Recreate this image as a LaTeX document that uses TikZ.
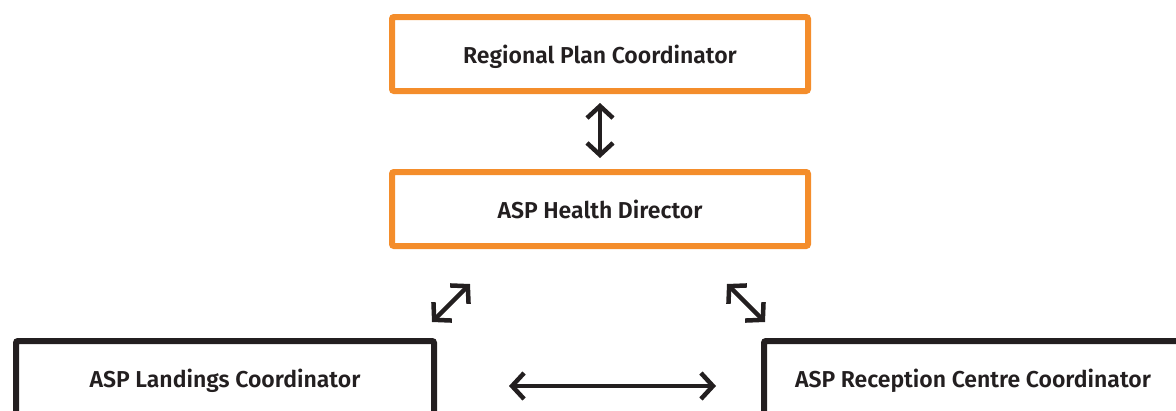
\documentclass[tikz,border=0pt]{standalone}
\usepackage{fontspec}
\setmainfont{Fira Sans}[BoldFont={Fira Sans SemiBold}]
\usepackage{xcolor}
\usetikzlibrary{arrows.meta}
\definecolor{planorange}{RGB}{244,141,43}
\definecolor{inkblack}{RGB}{35,31,32}

\begin{document}
\begin{tikzpicture}[x=1pt,y=-1pt,
    role/.style={draw, line width=6pt, rounded corners=2pt, text=inkblack, text depth=0pt,
                 font=\fontsize{23}{27}\selectfont\bfseries},
    lead/.style={role, draw=planorange, minimum width=416pt, minimum height=74pt},
    unit/.style={role, draw=inkblack, minimum width=418pt, minimum height=74pt},
    link/.style={inkblack, line width=4.5pt, {Straight Barb[length=12pt,width=26pt]}-{Straight Barb[length=12pt,width=26pt]}}]
    \useasboundingbox (0,0) rectangle (1176,410);
    \clip (0,0) rectangle (1176,410);

    \node[lead](RPC) at (600,  54) {Regional Plan Coordinator};
    \node[lead](AHD) at (600, 209) {ASP Health Director};
    \node[unit](ALC) at (225, 378) {ASP Landings Coordinator};
    \node[unit](ARC) at (973, 378) {ASP Reception Centre Coordinator};

    \coordinate(D1) at (470, 284);
    \coordinate(D2) at (432, 322);
    \coordinate(D3) at (727, 284);
    \coordinate(D4) at (765, 322);
    \coordinate(H1) at (509, 386);
    \coordinate(H2) at (716, 386);

    \draw[link] ([yshift=-9]RPC.south) -- ([yshift=11]AHD.north);
    \draw[link] (D1) -- (D2);
    \draw[link] (D3) -- (D4);
    \draw[link] (H1) -- (H2);
\end{tikzpicture}
\end{document}
